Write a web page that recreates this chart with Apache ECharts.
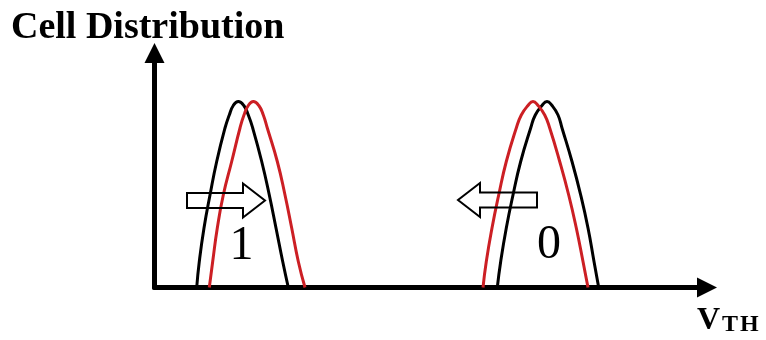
<!DOCTYPE html>
<html>
<head>
<meta charset="utf-8">
<script src="https://cdn.jsdelivr.net/npm/echarts@6/dist/echarts.min.js"></script>
<style>
  html, body { margin: 0; padding: 0; background: #fff; }
  #main { width: 766px; height: 340px; }
</style>
</head>
<body>
<div id="main"></div>
<script>
// heights of the traced points along each curve (left foot -> peak -> right foot)
var levels = [0, 26, 59.5, 92.5, 126, 159.5, 172.5, 182, 186, 182, 172.5, 159.5, 126, 92.5, 59.5, 26, 0]

// x positions (V_TH) of the traced points, one array per curve
var state1Before = [42.2, 44.8, 49.5, 55.5, 62.2, 70.5, 74.8, 78.8, 83.8, 89.3, 93.8, 98.2, 107.2, 114.8, 121.5, 128.2, 133.8]
var state1After = [54.8, 58.2, 62.8, 68.8, 77.2, 85.5, 89.5, 93.8, 98.8, 104.3, 108.8, 112.8, 122.8, 130.5, 137.2, 143.8, 150.5]
var state0Before = [342.8, 346.2, 351.8, 358.5, 366.2, 376.2, 380.8, 387.5, 392.5, 397.5, 403.5, 407.5, 417.5, 426.2, 433.5, 439.5, 444.2]
var state0After = [328.5, 331.8, 337.5, 344.2, 351.8, 361.8, 366.8, 373.5, 378.5, 383.5, 390.2, 395.2, 405.2, 414.2, 421.8, 428.5, 433.5]

// shift arrows: [tail x, tip x, y]
var shifts = [[32.5, 110.5, 87], [382.5, 303.5, 87.5]]

// state labels: [x, y, text]
var stateLabels = [[87, 41, '1'], [394.5, 42.5, '0']]

function pairs(xs) {
  return xs.map(function (x, i) { return [x, levels[i]] })
}

var serif = 'Liberation Serif'
var black = '#000000'
var red = '#cc1f24'

function curve(name, xs, color) {
  return {
    name: name,
    type: 'line',
    data: pairs(xs),
    smooth: 0.5,
    symbol: 'none',
    animation: false,
    lineStyle: { color: color, width: 3 },
    z: 3
  }
}

var myChart = echarts.init(document.getElementById('main'))

var option = {
  backgroundColor: '#fff',
  animation: false,
  title: {
    text: 'Cell Distribution',
    left: 6,
    top: 4,
    textStyle: { fontFamily: serif, fontWeight: 'bold', fontSize: 38, color: black }
  },
  grid: { left: 154.5, right: 59, top: 53, bottom: 52.5 },
  xAxis: {
    type: 'value',
    min: 0,
    max: 552.5,
    name: '{v|V}{t|T}{t|H}',
    nameLocation: 'end',
    nameGap: -10,
    nameTextStyle: {
      padding: [66, 0, 0, 0],
      rich: {
        v: { fontFamily: serif, fontWeight: 'bold', fontSize: 32, color: black, verticalAlign: 'bottom' },
        t: { fontFamily: serif, fontWeight: 'bold', fontSize: 24, color: black, verticalAlign: 'bottom', padding: [0, 0, 0, 2] }
      }
    },
    axisLine: {
      lineStyle: { color: black, width: 5 },
      symbol: ['none', 'triangle'],
      symbolSize: [20, 20]
    },
    axisTick: { show: false },
    axisLabel: { show: false },
    splitLine: { show: false }
  },
  yAxis: {
    type: 'value',
    min: 0,
    max: 234.5,
    axisLine: {
      show: true,
      lineStyle: { color: black, width: 5 },
      symbol: ['none', 'triangle'],
      symbolSize: [20, 20]
    },
    axisTick: { show: false },
    axisLabel: { show: false },
    splitLine: { show: false }
  },
  series: [
    curve('1 before', state1Before, black),
    curve('1 after', state1After, red),
    curve('0 before', state0Before, black),
    curve('0 after', state0After, red),
    {
      name: 'shift',
      type: 'custom',
      data: shifts,
      encode: { x: [0, 1], y: 2 },
      z: 4,
      renderItem: function (params, api) {
        var tail = api.coord([api.value(0), api.value(2)])
        var tip = api.coord([api.value(1), api.value(2)])
        var d = tip[0] > tail[0] ? 1 : -1
        var neck = tip[0] - d * 22
        var cy = tip[1]
        return {
          type: 'polygon',
          shape: {
            points: [
              [tail[0], cy - 7.5], [neck, cy - 7.5], [neck, cy - 17], [tip[0], cy],
              [neck, cy + 17], [neck, cy + 7.5], [tail[0], cy + 7.5]
            ]
          },
          style: { fill: 'none', stroke: black, lineWidth: 2 }
        }
      }
    },
    {
      name: 'state',
      type: 'scatter',
      data: stateLabels,
      symbolSize: 0,
      z: 5,
      itemStyle: { opacity: 1 },
      label: {
        show: true,
        position: 'inside',
        formatter: function (p) { return p.value[2] },
        fontFamily: serif,
        fontSize: 48,
        color: black,
        opacity: 1
      }
    }
  ]
}

myChart.setOption(option)
</script>
</body>
</html>
